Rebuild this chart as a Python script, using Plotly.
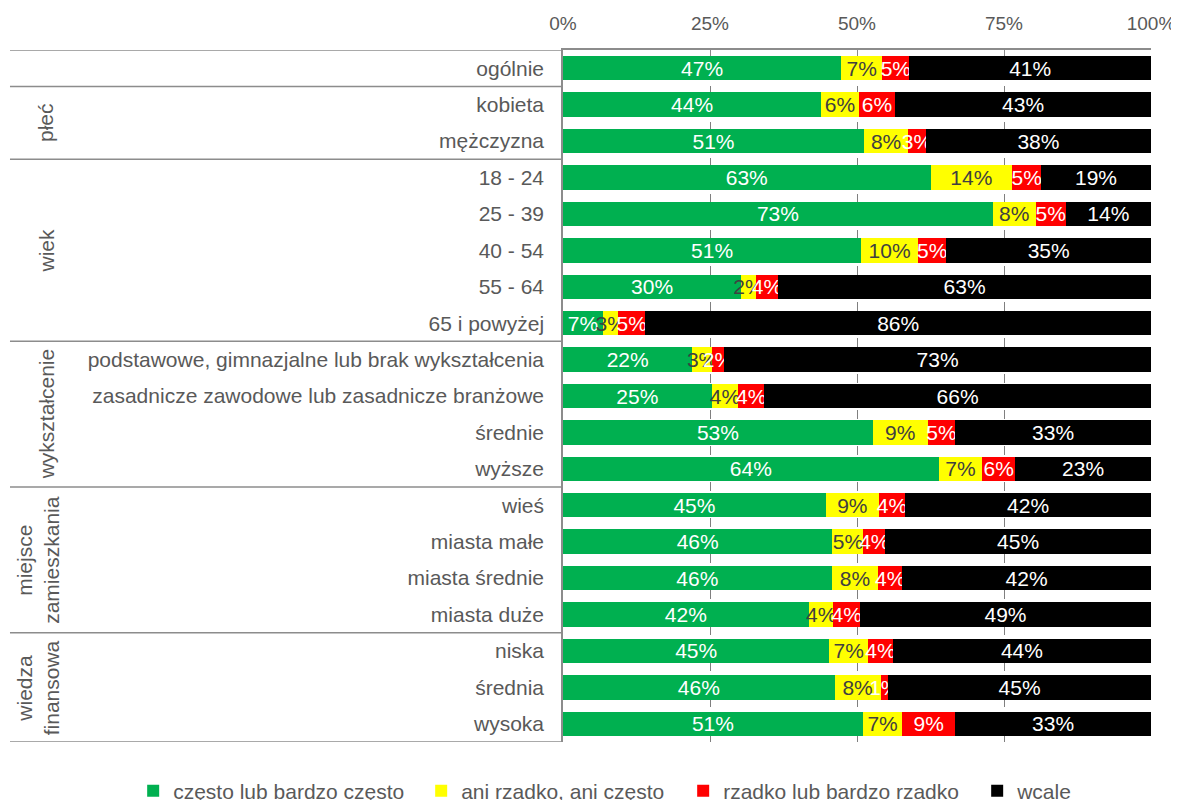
import plotly.graph_objects as go

categories = [
    "ogólnie", "kobieta", "mężczyzna",
    "18 - 24", "25 - 39", "40 - 54", "55 - 64", "65 i powyżej",
    "podstawowe, gimnazjalne lub brak wykształcenia",
    "zasadnicze zawodowe lub zasadnicze branżowe",
    "średnie", "wyższe",
    "wieś", "miasta małe", "miasta średnie", "miasta duże",
    "niska", "średnia", "wysoka",
]

series_names = ["często lub bardzo często", "ani rzadko, ani często",
                "rzadko lub bardzo rzadko", "wcale"]

# bar lengths (%)
czesto = [47.3, 43.9, 51.2, 62.5, 73.1, 50.7, 30.3, 6.8, 22.0, 25.3, 52.7, 63.9,
          44.7, 45.8, 45.7, 41.8, 45.3, 46.2, 51.0]
ani = [7.0, 6.4, 7.5, 13.9, 7.3, 9.7, 2.5, 2.6, 3.3, 4.5, 9.3, 7.4,
       9.0, 5.3, 7.9, 4.2, 6.6, 7.8, 6.7]
rzadko = [4.6, 6.2, 3.0, 4.9, 5.1, 4.8, 3.8, 4.6, 2.1, 4.4, 4.7, 5.6,
          4.5, 3.7, 4.1, 4.5, 4.2, 1.3, 9.0]
wcale = [41.1, 43.5, 38.3, 18.7, 14.5, 34.8, 63.4, 86.0, 72.6, 65.8, 33.3, 23.1,
         41.8, 45.2, 42.3, 49.5, 43.9, 44.7, 33.3]

# labels as printed on the chart
czesto_lbl = [47, 44, 51, 63, 73, 51, 30, 7, 22, 25, 53, 64, 45, 46, 46, 42, 45, 46, 51]
ani_lbl = [7, 6, 8, 14, 8, 10, 2, 3, 3, 4, 9, 7, 9, 5, 8, 4, 7, 8, 7]
rzadko_lbl = [5, 6, 3, 5, 5, 5, 4, 5, 2, 4, 5, 6, 4, 4, 4, 4, 4, 1, 9]
wcale_lbl = [41, 43, 38, 19, 14, 35, 63, 86, 73, 66, 33, 23, 42, 45, 42, 49, 44, 45, 33]

groups = ["płeć", "wiek", "wykształcenie", "miejsce<br>zamieszkania", "wiedza<br>finansowa"]
group_ranges = [(1, 2), (3, 7), (8, 11), (12, 15), (16, 18)]
separators = [-0.5, 0.5, 2.5, 7.5, 11.5, 15.5, 18.5]

tick_vals = [0, 25, 50, 75, 100]
tick_text = ["0%", "25%", "50%", "75%", "100%"]

colors = ["#00B050", "#FFFF00", "#FF0000", "#000000"]
text_colors = ["#FFFFFF", "#404040", "#FFFFFF", "#FFFFFF"]
legend_widths = [243, 217, 249, 60]

FONT = "Liberation Sans, Arial, sans-serif"
GRAY = "#595959"
FS = 21

fig = go.Figure()
for name, vals, lbls, col, tcol, lw in zip(series_names,
                                            [czesto, ani, rzadko, wcale],
                                            [czesto_lbl, ani_lbl, rzadko_lbl, wcale_lbl],
                                            colors, text_colors, legend_widths):
    fig.add_trace(go.Bar(
        y=categories, x=vals, name=name, orientation="h",
        marker=dict(color=col, line=dict(width=0)),
        text=[f"{v}%" for v in lbls],
        textposition="inside", insidetextanchor="middle", textangle=0,
        textfont=dict(family=FONT, size=FS, color=tcol),
        hoverinfo="skip", legendwidth=lw,
    ))

shapes = []
for s in separators:
    shapes.append(dict(type="line", xref="paper", yref="y",
                       x0=-0.9405, x1=0, y0=s, y1=s,
                       line=dict(color="#8C8C8C", width=1.5)))
annotations = []
for g, (a, b) in zip(groups, group_ranges):
    xpos = -0.893 if "<br>" in g else -0.879
    annotations.append(dict(text=g, xref="paper", yref="y",
                            x=xpos, y=(a + b) / 2, textangle=-90,
                            showarrow=False, xanchor="center", yanchor="middle",
                            font=dict(family=FONT, size=FS, color=GRAY)))

fig.update_layout(
    barmode="stack", bargap=0.33,
    width=1179, height=800,
    margin=dict(l=555, r=36, t=42, b=66, autoexpand=False),
    paper_bgcolor="white", plot_bgcolor="white",
    font=dict(family=FONT, size=FS, color=GRAY),
    uniformtext=dict(minsize=FS, mode="show"),
    shapes=shapes, annotations=annotations,
    showlegend=True,
    legend=dict(orientation="h", xref="paper", yref="paper",
                x=-0.731, xanchor="left", y=-0.0708, yanchor="middle",
                font=dict(family=FONT, size=FS, color=GRAY),
                traceorder="normal", itemwidth=30),
    xaxis=dict(side="top", range=[0, 100], tickvals=tick_vals, ticktext=tick_text,
               showgrid=True, gridcolor="#7F7F7F", griddash="dash", gridwidth=1,
               showline=True, linecolor="#8C8C8C", linewidth=1.5,
               ticks="inside", ticklen=6, tickcolor="#8C8C8C",
               ticklabelstandoff=11, zeroline=False, automargin=False,
               tickfont=dict(family=FONT, size=19, color=GRAY)),
    yaxis=dict(range=[18.5, -0.5], showline=True, linecolor="#8C8C8C", linewidth=1.5,
               ticks="", ticklabelstandoff=13, showgrid=False, automargin=False,
               tickfont=dict(family=FONT, size=FS, color=GRAY)),
)

fig.write_html("out.html")
